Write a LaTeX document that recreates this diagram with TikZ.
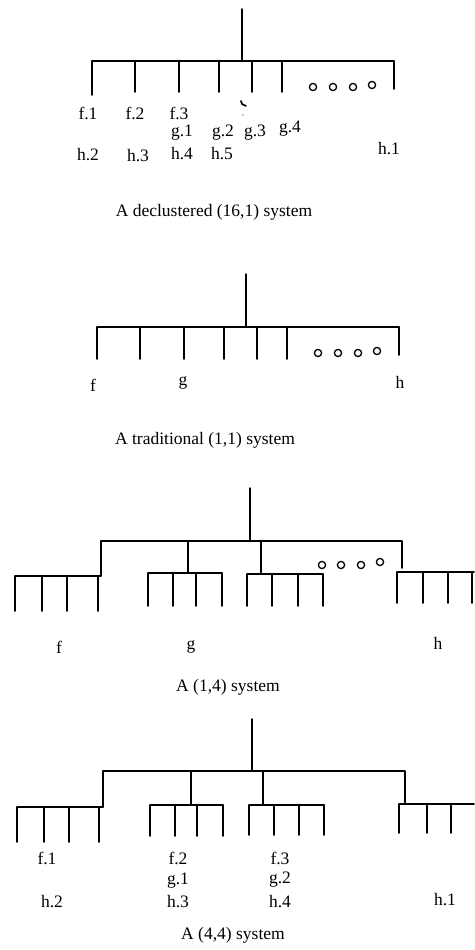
\documentclass[tikz,border=0pt]{standalone}
\usepackage{fontspec}
\setmainfont{Liberation Serif}
\tikzset{
  wire/.style={line width=1.5pt, line cap=round, line join=round},
  ring/.style={line width=1.3pt},
  lbl/.style={inner sep=0pt, font=\fontsize{17.5}{20}\selectfont},
  capt/.style={inner sep=0pt, font=\fontsize{17.5}{20}\selectfont}
}
\begin{document}
\begin{tikzpicture}[x=1pt, y=-1pt]
\useasboundingbox (0,0) rectangle (474,950);

% ---------- declustered (16,1) system ----------
\coordinate (a-top) at (242,9);
\coordinate (a-hub) at (242,61);
\draw[wire] (a-top) -- (a-hub);
\draw[wire] (92,61) -- (394,61);
\foreach \x/\b in {92/95,135/92,179/92,219/92,252/92,282/92,394/89}
  \draw[wire] (\x,61) -- (\x,\b);
\foreach \x/\y in {313/87,333/87,353/87,372/85}
  \draw[ring] (\x,\y) circle (3.6);
\draw[line width=1.6pt, line cap=round] (241,101) -- (242,104) -- (246,106);
\fill (243,115) circle (0.6);
\node[lbl] (a-f1) at (88,113) {f.1};
\node[lbl] (a-f2) at (135,113) {f.2};
\node[lbl] (a-f3) at (179,113) {f.3};
\node[lbl] (a-g1) at (182,133) {g.1};
\node[lbl] (a-g2) at (223,133) {g.2};
\node[lbl] (a-g3) at (255,133) {g.3};
\node[lbl] (a-g4) at (290,129) {g.4};
\node[lbl] (a-h2) at (88,155) {h.2};
\node[lbl] (a-h3) at (138,156) {h.3};
\node[lbl] (a-h4) at (182,154) {h.4};
\node[lbl] (a-h5) at (222,154) {h.5};
\node[lbl] (a-h1) at (389,149) {h.1};
\node[capt] (a-cap) at (214,212) {A declustered (16,1) system};

% ---------- traditional (1,1) system ----------
\coordinate (b-top) at (246,274);
\coordinate (b-hub) at (246,327);
\draw[wire] (b-top) -- (b-hub);
\draw[wire] (97,327) -- (399,327);
\foreach \x/\b in {97/359,140/359,184/359,224/359,257/359,287/359,399/355}
  \draw[wire] (\x,327) -- (\x,\b);
\foreach \x/\y in {318/353,338/353,358/353,377/351}
  \draw[ring] (\x,\y) circle (3.6);
\node[lbl] (b-f) at (93,385) {f};
\node[lbl] (b-g) at (183,383) {g};
\node[lbl] (b-h) at (400,382) {h};
\node[capt] (b-cap) at (205,440) {A traditional (1,1) system};

% ---------- (1,4) system ----------
\coordinate (c-top) at (250,488);
\coordinate (c-hub) at (250,541);
\draw[wire] (c-top) -- (c-hub);
\draw[wire] (101,576) -- (101,541) -- (402,541) -- (402,568);
\draw[wire] (188,541) -- (188,573);
\draw[wire] (261,541) -- (261,574);
% disk groups
\draw[wire] (15,576) -- (101,576);
\foreach \x in {15,42,67,98} \draw[wire] (\x,576) -- (\x,611);
\draw[wire] (148,573) -- (222,573);
\foreach \x in {148,173,196,222} \draw[wire] (\x,573) -- (\x,606);
\draw[wire] (247,574) -- (323,574);
\foreach \x in {247,272,298,323} \draw[wire] (\x,574) -- (\x,606);
\draw[wire] (397,572) -- (474,572);
\foreach \x in {397,423,448,472} \draw[wire] (\x,572) -- (\x,603);
\foreach \x/\y in {322/565,341/565,361/565,380/562}
  \draw[ring] (\x,\y) circle (3.6);
\node[lbl] (c-f) at (59,647) {f};
\node[lbl] (c-g) at (191,647) {g};
\node[lbl] (c-h) at (438,643) {h};
\node[capt] (c-cap) at (228,687) {A (1,4) system};

% ---------- (4,4) system ----------
\coordinate (d-top) at (252,719);
\coordinate (d-hub) at (252,771);
\draw[wire] (d-top) -- (d-hub);
\draw[wire] (103,807) -- (103,771) -- (405,771) -- (405,804);
\draw[wire] (191,771) -- (191,805);
\draw[wire] (263,771) -- (263,805);
% disk groups
\draw[wire] (17,807) -- (103,807);
\foreach \x in {17,44,69,99} \draw[wire] (\x,807) -- (\x,842);
\draw[wire] (150,805) -- (223,805);
\foreach \x in {150,175,197,223} \draw[wire] (\x,805) -- (\x,836);
\draw[wire] (249,805) -- (324,805);
\foreach \x in {249,274,299,324} \draw[wire] (\x,805) -- (\x,835);
\draw[wire] (399,804) -- (474,804);
\foreach \x in {399,427,451} \draw[wire] (\x,804) -- (\x,833);
\node[lbl] (d-f1) at (47,858) {f.1};
\node[lbl] (d-f2) at (178,858) {f.2};
\node[lbl] (d-f3) at (280,858) {f.3};
\node[lbl] (d-g1) at (178,881) {g.1};
\node[lbl] (d-g2) at (280,880) {g.2};
\node[lbl] (d-h2) at (52,902) {h.2};
\node[lbl] (d-h3) at (178,902) {h.3};
\node[lbl] (d-h4) at (280,902) {h.4};
\node[lbl] (d-h1) at (445,900) {h.1};
\node[capt] (d-cap) at (233,935) {A (4,4) system};
\end{tikzpicture}
\end{document}
